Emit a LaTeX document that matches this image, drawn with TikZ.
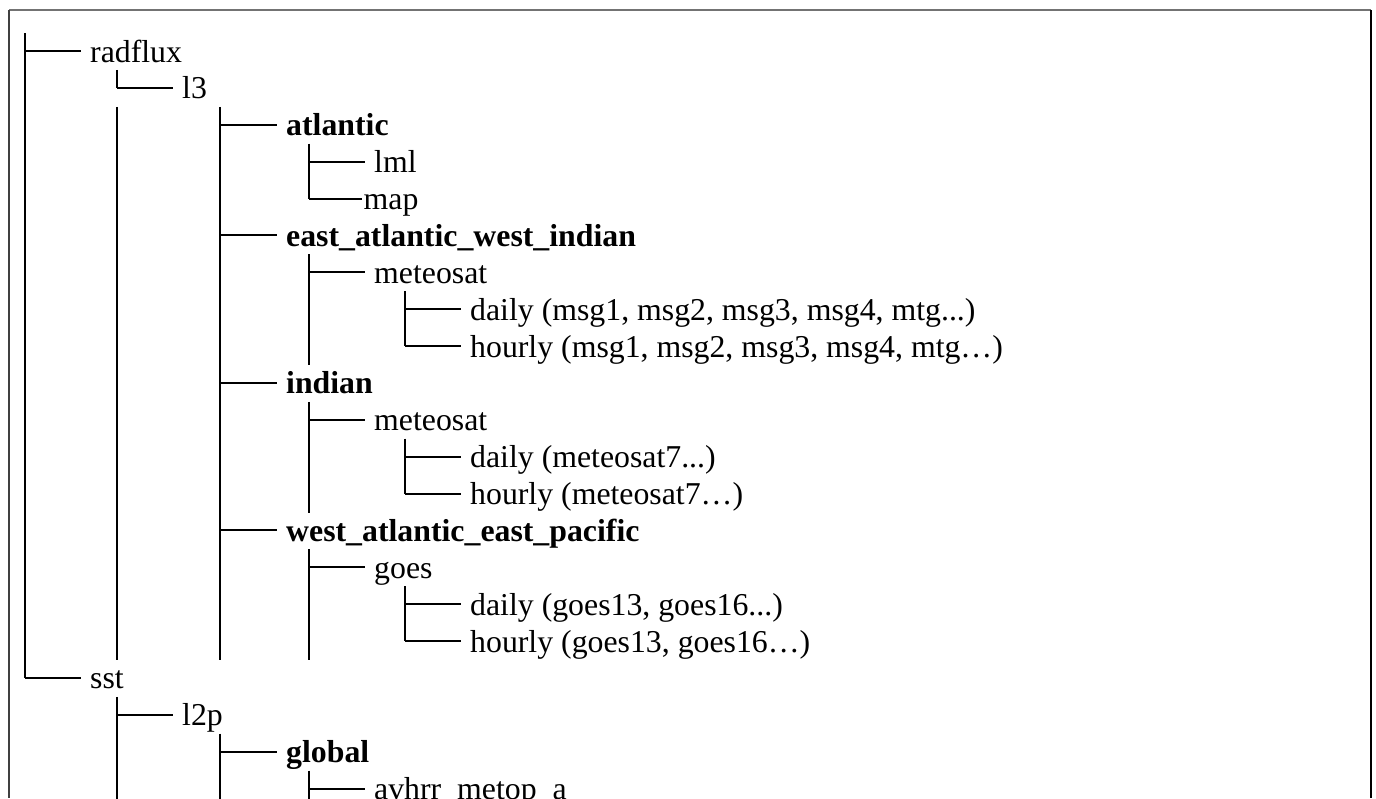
\documentclass[tikz,border=0pt]{standalone}
\usepackage{fontspec}
\setmainfont{Liberation Serif}
\begin{document}
\begin{tikzpicture}[x=1pt,y=-1pt,
  treeline/.style={line width=2pt,black},
  item/.style={anchor=west,inner xsep=9pt,inner ysep=0pt,text height=22pt,text depth=0pt,
    font=\fontsize{31.8}{38}\selectfont},
  bolditem/.style={item,font=\fontsize{31.8}{38}\selectfont\bfseries}]
\useasboundingbox (0,0) rectangle (1376,798);
% frame
\coordinate (fTL) at (9,10); \coordinate (fTR) at (1370.5,10);
\coordinate (fBL) at (9,798); \coordinate (fBR) at (1370.5,798);
\draw[line width=2pt,black!55] (fTL) -- (fTR);
\draw[line width=1.6pt,black!75] (fTL) -- (fBL);
\draw[line width=2pt,black] (fTR) -- (fBR);
% rows: y = 51 + 36.88 k ; text x = col + 56 (west with inner xsep 9)
\def\cA{25}\def\cB{117}\def\cC{220}\def\cD{309}\def\cE{405}
\node[item]     (r0)  at (81,51)      {radflux};
\node[item]     (r1)  at (173,87.88)  {l3};
\node[bolditem] (r2)  at (277,124.76) {atlantic};
\node[item]     (r3)  at (365,161.64) {lml};
\node[item,inner xsep=1.5pt] (r4)  at (362,198.52) {map};
\node[bolditem] (r5)  at (277,235.4)  {east\_atlantic\_west\_indian};
\node[item]     (r6)  at (365,272.28) {meteosat};
\node[item]     (r7)  at (461,309.16) {daily (msg1, msg2, msg3, msg4, mtg...)};
\node[item]     (r8)  at (461,346.04) {hourly (msg1, msg2, msg3, msg4, mtg…)};
\node[bolditem] (r9)  at (277,382.92) {indian};
\node[item]     (r10) at (365,419.8)  {meteosat};
\node[item]     (r11) at (461,456.68) {daily (meteosat7...)};
\node[item]     (r12) at (461,493.56) {hourly (meteosat7…)};
\node[bolditem] (r13) at (277,530.44) {west\_atlantic\_east\_pacific};
\node[item]     (r14) at (365,567.32) {goes};
\node[item]     (r15) at (461,604.2)  {daily (goes13, goes16...)};
\node[item]     (r16) at (461,641.08) {hourly (goes13, goes16…)};
\node[item]     (r17) at (81,677.96)  {sst};
\node[item]     (r18) at (173,714.84) {l2p};
\node[bolditem] (r19) at (277,751.72) {global};
\node[item]     (r20) at (365,788.6)  {avhrr\_metop\_a};
% vertical line ends
\coordinate (a0) at (\cA,33);     \coordinate (a1) at (\cA,677.96);
\coordinate (b0) at (\cB,69.88);  \coordinate (b1) at (\cB,87.88);
\coordinate (b2) at (\cB,106.76); \coordinate (b3) at (\cB,660);
\coordinate (b4) at (\cB,696.84); \coordinate (b5) at (\cB,800);
\coordinate (c0) at (\cC,106.76); \coordinate (c1) at (\cC,660);
\coordinate (c2) at (\cC,733.72); \coordinate (c3) at (\cC,800);
\coordinate (d0) at (\cD,143.64); \coordinate (d1) at (\cD,198.52);
\coordinate (d2) at (\cD,254.28); \coordinate (d3) at (\cD,365);
\coordinate (d4) at (\cD,401.8);  \coordinate (d5) at (\cD,512.5);
\coordinate (d6) at (\cD,549.32); \coordinate (d7) at (\cD,660);
\coordinate (d8) at (\cD,770.6);  \coordinate (d9) at (\cD,800);
\coordinate (e0) at (\cE,291.16); \coordinate (e1) at (\cE,346.04);
\coordinate (e2) at (\cE,438.68); \coordinate (e3) at (\cE,493.56);
\coordinate (e4) at (\cE,586.2);  \coordinate (e5) at (\cE,641.08);
\draw[treeline] (a0) -- (a1) (b0) -- (b1) (b2) -- (b3) (b4) -- (b5)
  (c0) -- (c1) (c2) -- (c3)
  (d0) -- (d1) (d2) -- (d3) (d4) -- (d5) (d6) -- (d7) (d8) -- (d9)
  (e0) -- (e1) (e2) -- (e3) (e4) -- (e5);
% ticks
\foreach \n/\c in {r0/a0,r17/a0,r1/b0,r18/b0,r2/c0,r5/c0,r9/c0,r13/c0,r19/c0,
  r3/d0,r4/d0,r6/d0,r10/d0,r14/d0,r20/d0,r7/e0,r8/e0,r11/e0,r12/e0,r15/e0,r16/e0}
  \draw[treeline] (\n.west -| \c) -- (\n.west);
\end{tikzpicture}
\end{document}
